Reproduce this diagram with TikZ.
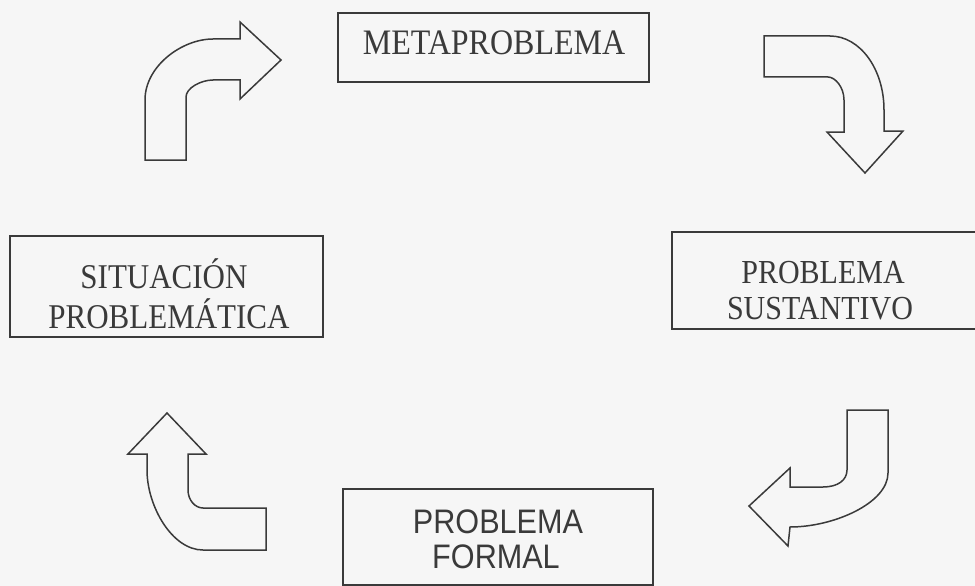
\documentclass[tikz,border=0pt]{standalone}
\usepackage{fontspec}
\usepackage{graphicx}
\setmainfont{Liberation Serif}
\newfontfamily\formalfont{Liberation Sans}
\definecolor{ink}{HTML}{3A3A3A}
\definecolor{paper}{HTML}{F6F6F6}
\newcommand{\tallser}[1]{\scalebox{1}[1.12]{#1}}
\begin{document}
\begin{tikzpicture}[x=1pt,y=-1pt,
  box/.style={draw=ink,line width=1.5pt,rectangle,inner sep=0pt,outer sep=0pt},
  lbl/.style={anchor=base,inner sep=0pt,text=ink},
  bentarrow/.style={draw=ink,line width=1.5pt,line join=miter,fill=paper}]
\useasboundingbox (0,0) rectangle (975,586);
\clip (0,0) rectangle (975,586);
\fill[paper] (0,0) rectangle (975,586);

% boxes
\node[box,minimum width=311pt,minimum height=69pt] (meta) at (493.5,47.5) {};
\node[box,minimum width=313pt,minimum height=101pt] (sit) at (166.5,286.5) {};
\node[box,minimum width=318pt,minimum height=97pt] (sust) at (831,280.5) {};
\node[box,minimum width=310pt,minimum height=96pt] (formal) at (498,537) {};

% labels
\node[lbl,font=\fontsize{32}{40}\selectfont] (metaT) at (494,55) {\tallser{METAPROBLEMA}};
\node[lbl,font=\fontsize{31}{40}\selectfont] (sitA) at (164,288) {\tallser{SITUACIÓN}};
\node[lbl,font=\fontsize{31}{40}\selectfont] (sitB) at (169,328) {\tallser{PROBLEMÁTICA}};
\node[lbl,font=\fontsize{30}{38}\selectfont] (sustA) at (823,283) {\tallser{PROBLEMA}};
\node[lbl,font=\fontsize{30}{38}\selectfont] (sustB) at (820,319) {\tallser{SUSTANTIVO}};
\node[lbl,font=\formalfont\fontsize{34}{40}\selectfont] (formA) at (498,533) {\scalebox{0.9}[1]{PROBLEMA}};
\node[lbl,font=\formalfont\fontsize{34}{40}\selectfont] (formB) at (496,568) {\scalebox{0.9}[1]{FORMAL}};

% bent block arrows
% 1: up then right (situación -> metaproblema)
\draw[bentarrow] (145,160) -- (145,100)
  .. controls (145,66) and (182,39) .. (213,39)
  -- (240,39) -- (240,22) -- (281,60) -- (240,99) -- (240,80) -- (213,80)
  .. controls (201,80) and (186,88) .. (186,97)
  -- (186,160) -- cycle;
% 2: right then down (metaproblema -> sustantivo)
\draw[bentarrow] (764,36) -- (830,36)
  .. controls (860,36) and (884,69) .. (884,110)
  -- (884,131) -- (903,131) -- (865,173) -- (827,132) -- (844,132) -- (844,100)
  .. controls (844,87) and (835,77) .. (828,77)
  -- (764,77) -- cycle;
% 3: down then left (sustantivo -> formal)
\draw[bentarrow] (847,410) -- (888,410) -- (888,473)
  .. controls (888,503) and (834,527) .. (790,527)
  -- (788,546) -- (749,506) -- (790,468) -- (790,487) -- (823,487)
  .. controls (838,487) and (847,480) .. (847,470)
  -- cycle;
% 4: left then up (formal -> situación)
\draw[bentarrow] (167,413) -- (206,454) -- (188,454) -- (188,490)
  .. controls (188,500) and (195,508) .. (203,508)
  -- (266,508) -- (266,550) -- (203,550)
  .. controls (172,550) and (147,506) .. (147,470)
  -- (147,454) -- (128,454) -- cycle;
\end{tikzpicture}
\end{document}
